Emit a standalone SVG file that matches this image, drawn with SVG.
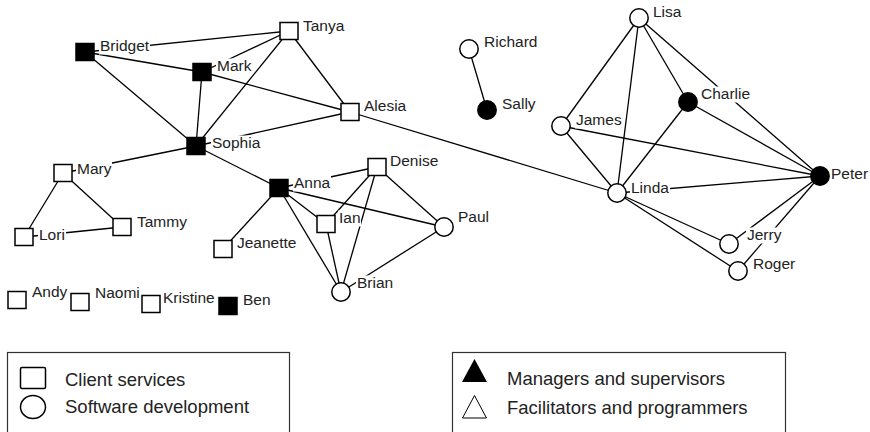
<svg xmlns="http://www.w3.org/2000/svg" width="870" height="432" viewBox="0 0 870 432">
<style>
.e{stroke:#000;stroke-width:1.3;fill:none}
.s{fill:#fff;stroke:#000;stroke-width:1.5}
.f{fill:#000;stroke:#000;stroke-width:1.5}
.bg{fill:#fff}
text{font-family:"Liberation Sans",Arial,sans-serif;font-size:15.5px;fill:#222}
.lg{font-size:18.5px}
</style>
<rect width="870" height="432" fill="#fff"/>
<g id="connectors">
<line class="e" x1="85" y1="52" x2="289" y2="31"/>
<line class="e" x1="85" y1="52" x2="202" y2="72"/>
<line class="e" x1="85" y1="52" x2="196" y2="146"/>
<line class="e" x1="202" y1="72" x2="289" y2="31"/>
<line class="e" x1="202" y1="72" x2="196" y2="146"/>
<line class="e" x1="202" y1="72" x2="350" y2="112"/>
<line class="e" x1="289" y1="31" x2="196" y2="146"/>
<line class="e" x1="289" y1="31" x2="350" y2="112"/>
<line class="e" x1="196" y1="146" x2="350" y2="112"/>
<line class="e" x1="196" y1="146" x2="63" y2="173"/>
<line class="e" x1="196" y1="146" x2="279" y2="188"/>
<line class="e" x1="350" y1="112" x2="617" y2="193"/>
<line class="e" x1="63" y1="173" x2="24" y2="237"/>
<line class="e" x1="63" y1="173" x2="122" y2="227"/>
<line class="e" x1="24" y1="237" x2="122" y2="227"/>
<line class="e" x1="279" y1="188" x2="223" y2="249"/>
<line class="e" x1="279" y1="188" x2="377" y2="167"/>
<line class="e" x1="279" y1="188" x2="326" y2="224"/>
<line class="e" x1="279" y1="188" x2="444" y2="227"/>
<line class="e" x1="279" y1="188" x2="341" y2="292"/>
<line class="e" x1="377" y1="167" x2="326" y2="224"/>
<line class="e" x1="377" y1="167" x2="341" y2="292"/>
<line class="e" x1="377" y1="167" x2="444" y2="227"/>
<line class="e" x1="326" y1="224" x2="341" y2="292"/>
<line class="e" x1="444" y1="227" x2="341" y2="292"/>
<line class="e" x1="469" y1="49" x2="487" y2="110"/>
<line class="e" x1="639" y1="18" x2="561" y2="126"/>
<line class="e" x1="639" y1="18" x2="617" y2="193"/>
<line class="e" x1="639" y1="18" x2="688" y2="102"/>
<line class="e" x1="639" y1="18" x2="820" y2="176"/>
<line class="e" x1="561" y1="126" x2="617" y2="193"/>
<line class="e" x1="561" y1="126" x2="820" y2="176"/>
<line class="e" x1="688" y1="102" x2="617" y2="193"/>
<line class="e" x1="688" y1="102" x2="820" y2="176"/>
<line class="e" x1="617" y1="193" x2="820" y2="176"/>
<line class="e" x1="617" y1="193" x2="729" y2="244"/>
<line class="e" x1="617" y1="193" x2="738" y2="271"/>
<line class="e" x1="820" y1="176" x2="729" y2="244"/>
<line class="e" x1="820" y1="176" x2="738" y2="271"/>
</g>
<g id="Bridget"><rect class="bg" x="99" y="38.5" width="51" height="16"/><text x="100" y="51">Bridget</text><rect class="f" x="76" y="43.5" width="18" height="17"/></g>
<g id="Mark"><rect class="bg" x="216" y="58.5" width="36" height="16"/><text x="217" y="71">Mark</text><rect class="f" x="193" y="63.5" width="18" height="17"/></g>
<g id="Sophia"><rect class="bg" x="211" y="135.5" width="50" height="16"/><text x="212" y="148">Sophia</text><rect class="f" x="187" y="137.5" width="18" height="17"/></g>
<g id="Tanya"><rect class="bg" x="302" y="18.5" width="45" height="16"/><text x="303" y="31">Tanya</text><rect class="s" x="280" y="22.5" width="18" height="17"/></g>
<g id="Alesia"><rect class="bg" x="363" y="98.5" width="44" height="16"/><text x="364" y="111">Alesia</text><rect class="s" x="341" y="103.5" width="18" height="17"/></g>
<g id="Mary"><rect class="bg" x="76" y="161.5" width="36" height="16"/><text x="77" y="174">Mary</text><rect class="s" x="54" y="164.5" width="18" height="17"/></g>
<g id="Lori"><rect class="bg" x="38" y="227.5" width="28" height="16"/><text x="39" y="240">Lori</text><rect class="s" x="15" y="228.5" width="18" height="17"/></g>
<g id="Tammy"><rect class="bg" x="136" y="214.5" width="54" height="16"/><text x="137" y="227">Tammy</text><rect class="s" x="113" y="218.5" width="18" height="17"/></g>
<g id="Anna"><rect class="bg" x="293" y="175.5" width="38" height="16"/><text x="294" y="188">Anna</text><rect class="f" x="270" y="179.5" width="18" height="17"/></g>
<g id="Jeanette"><rect class="bg" x="236" y="235.5" width="62" height="16"/><text x="237" y="248">Jeanette</text><rect class="s" x="214" y="240.5" width="18" height="17"/></g>
<g id="Denise"><rect class="bg" x="389" y="153.5" width="50" height="16"/><text x="390" y="166">Denise</text><rect class="s" x="368" y="158.5" width="18" height="17"/></g>
<g id="Ian"><rect class="bg" x="338" y="210.5" width="23" height="16"/><text x="339" y="223">Ian</text><rect class="s" x="317" y="215.5" width="18" height="17"/></g>
<g id="Paul"><rect class="bg" x="457" y="209.5" width="33" height="16"/><text x="458" y="222">Paul</text><circle class="s" cx="444" cy="227" r="9.2"/></g>
<g id="Brian"><rect class="bg" x="356" y="275.5" width="38" height="16"/><text x="357" y="288">Brian</text><circle class="s" cx="341" cy="292" r="9.2"/></g>
<g id="Andy"><text x="32" y="297">Andy</text><rect class="s" x="8" y="291.5" width="18" height="17"/></g>
<g id="Naomi"><text x="95" y="298">Naomi</text><rect class="s" x="71" y="293.5" width="18" height="17"/></g>
<g id="Kristine"><text x="163" y="303">Kristine</text><rect class="s" x="142" y="295.5" width="18" height="17"/></g>
<g id="Ben"><text x="243" y="305">Ben</text><rect class="f" x="219" y="297.5" width="18" height="17"/></g>
<g id="Richard"><text x="484" y="47">Richard</text><circle class="s" cx="469" cy="49" r="9.2"/></g>
<g id="Sally"><text x="502" y="109">Sally</text><circle class="f" cx="487" cy="110" r="9.2"/></g>
<g id="Lisa"><rect class="bg" x="652" y="4.5" width="30" height="16"/><text x="653" y="17">Lisa</text><circle class="s" cx="639" cy="18" r="9.2"/></g>
<g id="Charlie"><rect class="bg" x="700" y="86.5" width="51" height="16"/><text x="701" y="99">Charlie</text><circle class="f" cx="688" cy="102" r="9.2"/></g>
<g id="James"><rect class="bg" x="575" y="112.5" width="47" height="16"/><text x="576" y="125">James</text><circle class="s" cx="561" cy="126" r="9.2"/></g>
<g id="Linda"><rect class="bg" x="630" y="180.5" width="40" height="16"/><text x="631" y="193">Linda</text><circle class="s" cx="617" cy="193" r="9.2"/></g>
<g id="Peter"><rect class="bg" x="830" y="166.5" width="39" height="16"/><text x="831" y="179">Peter</text><circle class="f" cx="820" cy="176" r="9.2"/></g>
<g id="Jerry"><rect class="bg" x="746" y="227.5" width="36" height="16"/><text x="747" y="240">Jerry</text><circle class="s" cx="729" cy="244" r="9.2"/></g>
<g id="Roger"><rect class="bg" x="752" y="256.5" width="44" height="16"/><text x="753" y="269">Roger</text><circle class="s" cx="738" cy="271" r="9.2"/></g>
<g id="legend-unit">
<rect x="7.5" y="352.5" width="282" height="90" fill="#fff" stroke="#333" stroke-width="1.2"/>
<rect class="s" x="20.5" y="367.5" width="25" height="21" rx="1.5"/>
<ellipse class="s" cx="33" cy="407" rx="12.5" ry="11.5"/>
<text class="lg" x="65" y="386">Client services</text>
<text class="lg" x="65" y="413">Software development</text>
</g>
<g id="legend-role">
<rect x="452.5" y="352.5" width="333" height="90" fill="#fff" stroke="#333" stroke-width="1.2"/>
<polygon points="474.5,359 462,382 487,382" fill="#000"/>
<polygon points="474.5,395.5 462.5,418 486.5,418" fill="#fff" stroke="#000" stroke-width="1"/>
<text class="lg" x="507" y="385">Managers and supervisors</text>
<text class="lg" x="507" y="414">Facilitators and programmers</text>
</g>
</svg>
